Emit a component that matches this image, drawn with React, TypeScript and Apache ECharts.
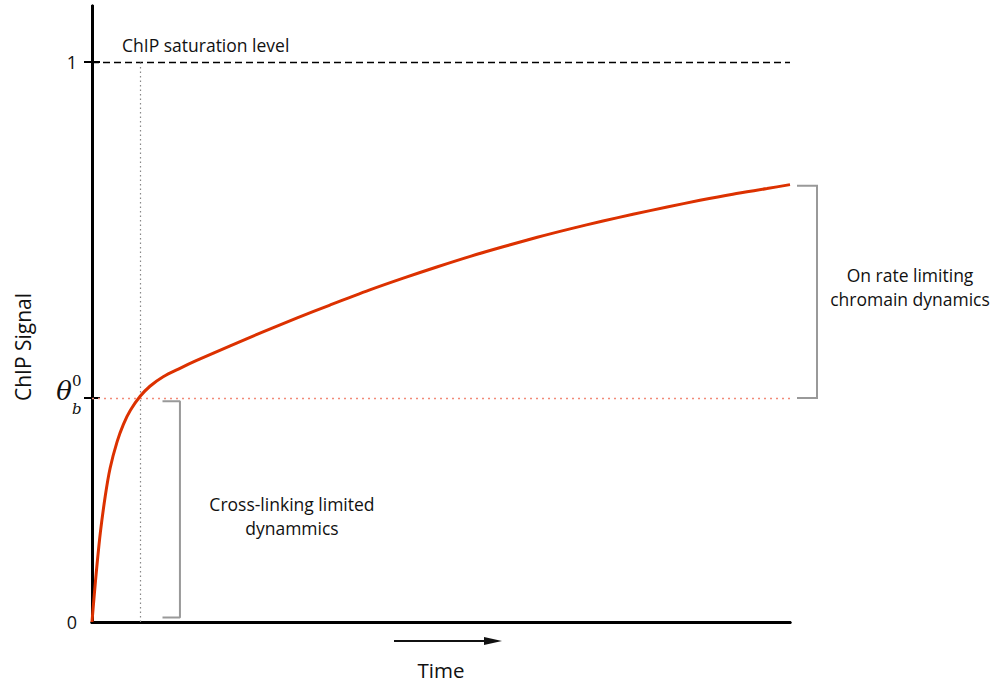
import React, { useEffect, useRef } from "react";
import * as echarts from "echarts";

const timeValues = [0, 0.3, 0.7, 1.2, 1.9, 2.6, 3.6, 4.5, 5.5, 6.9, 8.3, 10.2, 12.6, 15.0, 19.8, 24.5, 29.4, 34.1, 39.8, 44.6, 49.4, 54.2, 58.9, 63.8, 68.5, 73.2, 77.5, 82.4, 87.1, 91.8, 96.7, 100];
const signalValues = [0, 0.045, 0.1, 0.16, 0.225, 0.275, 0.322, 0.353, 0.378, 0.403, 0.421, 0.438, 0.453, 0.467, 0.493, 0.518, 0.543, 0.566, 0.593, 0.614, 0.634, 0.653, 0.67, 0.687, 0.702, 0.716, 0.728, 0.741, 0.753, 0.764, 0.774, 0.781];
const saturationLevel = 1;
const thetaLevel = 0.4;
const crosslinkTime = 6.9;
const leftBracketX = [10.1, 12.6];
const leftBracketY = [0.394, 0.008];
const yTickValues = [thetaLevel, saturationLevel];
const yLabelValues = [0, saturationLevel];
const texts = {
  saturation: "ChIP saturation level",
  crosslink: ["Cross-linking limited", "dynammics"],
  onrate: ["On rate limiting", "chromain dynamics"],
  yName: "ChIP Signal",
  xName: "Time",
};

const FONT = "'Open Sans', 'Noto Sans', sans-serif";

export default function App() {
  const ref = useRef<HTMLDivElement>(null);
  useEffect(() => {
    document.body.style.margin = "0";
    const chart = echarts.init(ref.current!, null, { renderer: "svg" });
    const axisLine = { show: true, lineStyle: { color: "#000", width: 3 } };
    chart.setOption({
      animation: false,
      grid: { left: 92, right: 207, top: 6, bottom: 60 },
      xAxis: [
        {
          type: "value", min: 0, max: 100, position: "bottom",
          axisLine, axisTick: { show: false }, axisLabel: { show: false }, splitLine: { show: false },
          name: texts.xName, nameLocation: "middle", nameGap: 37,
          nameTextStyle: { fontFamily: FONT, fontSize: 20.5, color: "#111" },
        },
        {
          type: "value", min: 0, max: 100, position: "top",
          axisLine, axisTick: { show: false }, axisLabel: { show: false }, splitLine: { show: false },
        },
      ],
      yAxis: [
        {
          type: "value", min: 0, max: 1.1, position: "left",
          axisLine,
          axisTick: { show: true, inside: true, length: 8, customValues: yTickValues, lineStyle: { color: "#000", width: 2 } },
          axisLabel: { customValues: yLabelValues, margin: 15, fontFamily: FONT, fontSize: 18, color: "#111",
            formatter: (v: number) => String(v) },
          splitLine: { show: false },
        },
        {
          type: "value", min: 0, max: 1.1, position: "right",
          axisLine,
          axisTick: { show: true, inside: true, length: 8, customValues: yTickValues, lineStyle: { color: "#000", width: 2 } },
          axisLabel: { show: false }, splitLine: { show: false },
        },
      ],
      series: [
        {
          type: "line",
          data: timeValues.map((t, i) => [t, signalValues[i]]),
          smooth: 0.3, showSymbol: false,
          lineStyle: { color: "#dc3100", width: 3 },
          z: 5,
          markLine: {
            silent: true, symbol: "none", label: { show: false },
            data: [
              { yAxis: saturationLevel, lineStyle: { color: "#000", type: [7, 4], width: 1.3 } },
              { yAxis: thetaLevel, lineStyle: { color: "#f28a78", type: [2, 4], width: 1.3 } },
              [
                { coord: [crosslinkTime, 0], lineStyle: { color: "#888", type: [1.5, 3], width: 1.2 } },
                { coord: [crosslinkTime, saturationLevel] },
              ],
            ],
          },
        },
        {
          type: "line",
          data: [
            [leftBracketX[0], leftBracketY[0]],
            [leftBracketX[1], leftBracketY[0]],
            [leftBracketX[1], leftBracketY[1]],
            [leftBracketX[0], leftBracketY[1]],
          ],
          showSymbol: false,
          lineStyle: { color: "#999", width: 2 },
          z: 3,
        },
      ],
    });

    const p = (x: number, y: number) => chart.convertToPixel({ gridIndex: 0 }, [x, y]) as number[];
    const origin = p(0, 0);
    const top = p(0, 1.1)[1];
    const right = p(100, 0)[0];
    const yTheta = p(0, thetaLevel)[1];
    const ySat = p(0, saturationLevel)[1];
    const yEnd = p(100, signalValues[signalValues.length - 1])[1];
    const bl = p(leftBracketX[1], (leftBracketY[0] + leftBracketY[1]) / 2);
    const arrowY = origin[1] + 19;

    chart.setOption({
      graphic: [
        {
          type: "text", left: origin[0] + 30, top: ySat - 26,
          style: { text: texts.saturation, fontFamily: FONT, fontSize: 17.5, fill: "#111" },
        },
        {
          type: "text", x: 23, y: (top + origin[1]) / 2 + 33, rotation: Math.PI / 2,
          style: { text: texts.yName, fontFamily: FONT, fontSize: 21, fill: "#111",
            align: "center", verticalAlign: "middle" },
        },
        {
          type: "text", x: bl[0] + 112, y: bl[1] + 7,
          style: { text: texts.crosslink.join("\n"), fontFamily: FONT, fontSize: 17.5, fill: "#111",
            align: "center", verticalAlign: "middle", lineHeight: 24 },
        },
        {
          type: "polyline",
          shape: { points: [[right + 7, yEnd + 1], [right + 27, yEnd + 1], [right + 27, yTheta], [right + 7, yTheta]] },
          style: { stroke: "#999", lineWidth: 2, fill: "none" },
        },
        {
          type: "text", x: right + 120, y: (yEnd + yTheta) / 2 - 4,
          style: { text: texts.onrate.join("\n"), fontFamily: FONT, fontSize: 17.5, fill: "#111",
            align: "center", verticalAlign: "middle", lineHeight: 24 },
        },
        {
          type: "text", x: origin[0] - 20, y: yTheta - 7,
          style: { text: "θ", fontFamily: "'DejaVu Serif', serif", fontStyle: "italic", fontSize: 26, fill: "#111",
            align: "right", verticalAlign: "middle" },
        },
        {
          type: "text", x: origin[0] - 20, y: yTheta + 11,
          style: { text: "b", fontFamily: "'DejaVu Serif', serif", fontStyle: "italic", fontSize: 15, fill: "#111",
            align: "left", verticalAlign: "middle" },
        },
        {
          type: "text", x: origin[0] - 20, y: yTheta - 17,
          style: { text: "0", fontFamily: "'DejaVu Serif', serif", fontSize: 15, fill: "#111",
            align: "left", verticalAlign: "middle" },
        },
        {
          type: "line",
          shape: { x1: origin[0] + 302, y1: arrowY, x2: origin[0] + 396, y2: arrowY },
          style: { stroke: "#111", lineWidth: 2 },
        },
        {
          type: "polygon",
          shape: { points: [[origin[0] + 392, arrowY - 4], [origin[0] + 410, arrowY], [origin[0] + 392, arrowY + 4]] },
          style: { fill: "#111" },
        },
      ],
    });
    return () => chart.dispose();
  }, []);
  return <div ref={ref} style={{ width: 997, height: 685 }} />;
}
